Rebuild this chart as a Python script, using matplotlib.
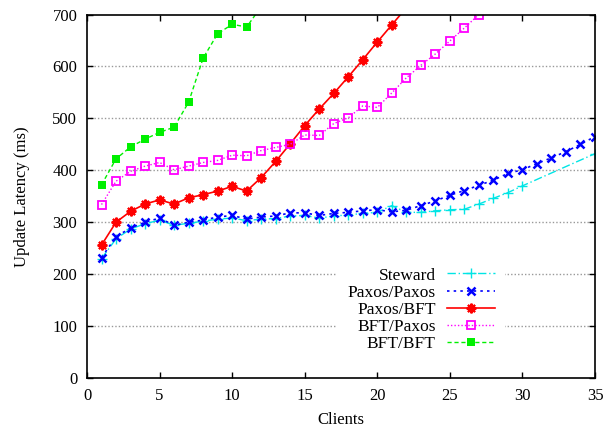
import matplotlib
matplotlib.use("Agg")
import matplotlib.pyplot as plt

plt.rcParams['font.family'] = ['Liberation Serif', 'DejaVu Serif']

# Data
steward_x = list(range(1, 31)) + [35]
steward_y = [230, 268, 287, 297, 304, 294, 298, 302, 306, 308, 303, 306, 307, 312, 313,
             308, 312, 314, 317, 319, 332, 319, 319, 322, 324, 325, 335, 346, 357, 370, 432]

pp_x = list(range(1, 36))
pp_y = [232, 272, 289, 300, 308, 294, 300, 304, 310, 313, 306, 310, 312, 318, 318,
        313, 317, 319, 322, 324, 320, 323, 332, 341, 352, 361, 371, 381, 394, 401,
        413, 424, 436, 450, 465]

pb_x = list(range(1, 23))
pb_y = [256, 300, 321, 335, 343, 335, 347, 353, 360, 369, 360, 386, 417, 451, 486,
        518, 548, 580, 613, 647, 680, 713]

bp_x = list(range(1, 28))
bp_y = [334, 379, 398, 408, 415, 401, 408, 415, 419, 429, 428, 438, 444, 450, 468,
        467, 490, 501, 524, 521, 549, 578, 602, 624, 649, 674, 700]

bb_x = list(range(1, 13))
bb_y = [372, 422, 445, 460, 473, 483, 531, 616, 663, 681, 676, 715]

series_labels = ["Steward", "Paxos/Paxos", "Paxos/BFT", "BFT/Paxos", "BFT/BFT"]
x_ticks = [0, 5, 10, 15, 20, 25, 30, 35]
y_ticks = [0, 100, 200, 300, 400, 500, 600, 700]

fig = plt.figure(figsize=(6.13, 4.30), dpi=100)
ax = fig.add_axes([87/613, 52/430, 508/613, 363.5/430])

ax.plot(steward_x, steward_y, color='#00e5e5', lw=1.0, ls=(0, (6, 2, 1, 2)),
        marker='+', ms=7, mew=1.0, label=series_labels[0])
ax.plot(pp_x, pp_y, color='#0000ff', lw=1.2, ls=(0, (1.5, 2.5)),
        marker='x', ms=6, mew=1.8, label=series_labels[1])
ax.plot(pb_x, pb_y, color='#ff0000', lw=1.2, ls='-',
        marker=(8, 2, 0), ms=7, mew=1.5, label=series_labels[2])
ax.plot(bp_x, bp_y, color='#ff00ff', lw=1.0, ls=(0, (1, 1.5)),
        marker='s', ms=6, mew=1.3, mfc='none', label=series_labels[3])
ax.plot(bb_x, bb_y, color='#00f000', lw=1.0, ls=(0, (3, 2)),
        marker='s', ms=6, mew=0, label=series_labels[4])

ax.set_xlim(0, 35)
ax.set_ylim(0, 700)
ax.set_xticks(x_ticks)
ax.set_yticks(y_ticks)
ax.tick_params(direction='in', top=True, right=True, length=4, width=1,
               labelsize=12, pad=7)
for s in ax.spines.values():
    s.set_linewidth(1.2)

for yv in y_ticks[1:-1]:
    ax.axhline(yv, color='#999999', lw=1.0, ls=(0, (1, 1.5)), zorder=0.5)

ax.set_xlabel("Clients", fontsize=12, labelpad=6)
ax.set_ylabel("Update Latency (ms)", fontsize=12, labelpad=16)

leg = ax.legend(loc='lower right', bbox_to_anchor=(0.823, 0.042), markerfirst=False,
                fontsize=12.5, handlelength=2.75, labelspacing=0.06, borderpad=0.6,
                handletextpad=0.64, frameon=True, fancybox=False, framealpha=1,
                edgecolor='none', facecolor='white', borderaxespad=0)

fig.savefig("out.png", dpi=100)
